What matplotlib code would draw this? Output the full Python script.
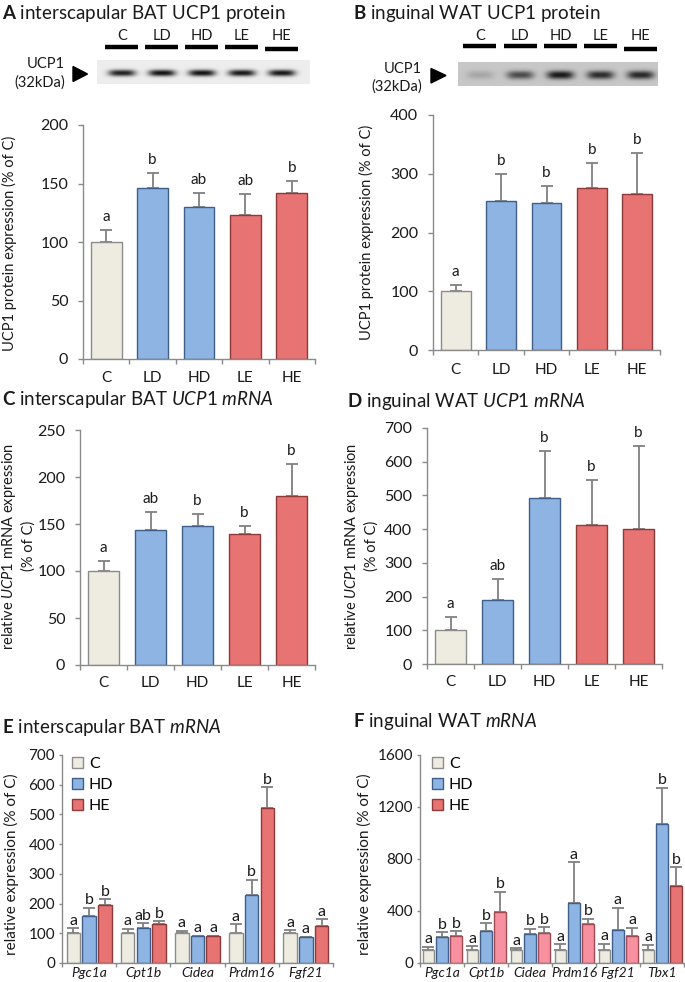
import numpy as np
import matplotlib
matplotlib.use("Agg")
import matplotlib.pyplot as plt
from matplotlib.patches import Polygon, Patch

plt.rcParams['font.family'] = ['Lato', 'DejaVu Sans']
plt.rcParams['mathtext.fontset'] = 'custom'
plt.rcParams['mathtext.rm'] = 'Lato'
plt.rcParams['mathtext.it'] = 'Lato:italic'
plt.rcParams['mathtext.bf'] = 'Lato:bold'

# ---------------- data ----------------
groups5 = ['C', 'LD', 'HD', 'LE', 'HE']

A_mean = [100, 146, 130, 123.5, 142]
A_top = [110, 159, 142, 141, 152]
A_letters = ['a', 'b', 'ab', 'ab', 'b']

B_mean = [100, 254, 251, 275, 266]
B_top = [111, 300, 279, 318, 335]
B_letters = ['a', 'b', 'b', 'b', 'b']

C_mean = [100, 144, 148, 139.5, 180]
C_top = [111, 163, 161, 148, 214]
C_letters = ['a', 'ab', 'b', 'b', 'b']

D_mean = [100, 189, 491, 411, 400]
D_top = [140, 251, 633, 545, 647]
D_letters = ['a', 'ab', 'b', 'b', 'b']

E_genes = ['Pgc1a', 'Cpt1b', 'Cidea', 'Prdm16', 'Fgf21']
E_series = ['C', 'HD', 'HE']
E_C = [100, 100, 100, 100, 100]
E_C_top = [117, 115, 108, 130, 110]
E_HD = [158, 118, 90, 228, 87]
E_HD_top = [186, 133, 91, 280, 89]
E_HE = [195, 130, 90, 522, 125]
E_HE_top = [215, 140, 91, 592, 147]
E_C_letters = ['a', 'a', 'a', 'a', 'a']
E_HD_letters = ['b', 'ab', 'a', 'b', 'a']
E_HE_letters = ['b', 'b', 'a', 'b', 'a']

F_genes = ['Pgc1a', 'Cpt1b', 'Cidea', 'Prdm16', 'Fgf21', 'Tbx1']
F_C = [100, 100, 100, 100, 100, 100]
F_C_top = [125, 130, 115, 145, 150, 140]
F_HD = [200, 245, 220, 460, 255, 1070]
F_HD_top = [235, 305, 265, 775, 425, 1350]
F_HE = [205, 390, 228, 298, 205, 590]
F_HE_top = [245, 550, 275, 340, 270, 735]
F_C_letters = ['a', 'a', 'a', 'a', 'a', 'a']
F_HD_letters = ['b', 'b', 'b', 'a', 'a', 'b']
F_HE_letters = ['b', 'b', 'b', 'b', 'a', 'b']

blotA_intensity = [0.86, 0.92, 0.92, 0.90, 0.90]
blotB_intensity = [0.16, 0.62, 0.88, 0.78, 0.80]

# ---------------- styles ----------------
BEIGE, BEIGE_E = '#EEECE1', '#8c8c8c'
BLUE, BLUE_E = '#8DB4E2', '#3f5f8a'
RED, RED_E = '#E87373', '#8b3a3a'
PINK, PINK_E = '#F7919F', '#a04a55'
AXC = '#8a8a8a'
TXT = '#1a1a1a'
ERRC = '#808080'
col5 = [BEIGE, BLUE, BLUE, RED, RED]
edge5 = [BEIGE_E, BLUE_E, BLUE_E, RED_E, RED_E]
F_he_colors = [PINK, PINK, PINK, PINK, PINK, RED]
F_he_edges = [PINK_E, PINK_E, PINK_E, PINK_E, PINK_E, RED_E]

W, H = 685, 982
fig = plt.figure(figsize=(W / 100, H / 100), dpi=100)

ov = fig.add_axes([0, 0, 1, 1], zorder=0)
ov.axis('off')


def px_axes(l, t, r, b):
    ax = fig.add_axes([l / W, 1 - b / H, (r - l) / W, (b - t) / H], zorder=2)
    ax.set_facecolor('none')
    return ax


def style_axes(ax, n, ylim, yticks, tick_fs, ytick_len, ytick_pad, xlabels,
               xlab_fs, xlab_pad, xstyle='normal', xtick_len=3.6):
    for s in ['top', 'right']:
        ax.spines[s].set_visible(False)
    for s in ['left', 'bottom']:
        ax.spines[s].set_color(AXC)
        ax.spines[s].set_linewidth(1.0)
    ax.set_xlim(-0.5, n - 0.5)
    ax.set_ylim(*ylim)
    ax.set_yticks(yticks)
    ax.tick_params(axis='y', which='major', direction='out', length=ytick_len,
                   width=1, color=AXC, labelsize=tick_fs, pad=ytick_pad,
                   labelcolor=TXT)
    ax.set_xticks(np.arange(n + 1) - 0.5)
    ax.set_xticklabels([])
    ax.tick_params(axis='x', which='major', direction='out', length=xtick_len,
                   width=1, color=AXC)
    ax.set_xticks(np.arange(n), minor=True)
    ax.set_xticklabels(xlabels, minor=True, fontsize=xlab_fs, style=xstyle,
                       color=TXT)
    ax.tick_params(axis='x', which='minor', length=0, pad=xlab_pad)


def simple_panel(rect, mean, top, letters, ylim, yticks, lab_off=6.5,
                 xlab_pad=9, ytick_pad=7):
    ax = px_axes(*rect)
    n = len(mean)
    x = np.arange(n)
    ax.bar(x, mean, 0.66, color=col5, edgecolor=edge5, linewidth=1.0, zorder=2)
    hi = np.array(top, float) - np.array(mean, float)
    ax.errorbar(x, mean, yerr=[np.zeros(n), hi], fmt='none', ecolor=ERRC,
                elinewidth=1.3, capsize=4.3, capthick=1.3, zorder=1)
    for xi, t, l in zip(x, top, letters):
        ax.annotate(l, (xi, t), xytext=(0, lab_off), textcoords='offset points',
                    ha='center', va='baseline', fontsize=11, color=TXT)
    style_axes(ax, n, ylim, yticks, 11.5, 3.6, ytick_pad, groups5, 11, xlab_pad)
    return ax


def grouped_panel(rect, genes, means, tops, letters, colors, edges, ylim, yticks,
                  width, offsets, legend_xy):
    ax = px_axes(*rect)
    n = len(genes)
    x = np.arange(n)
    for k in range(3):
        xs = x + offsets[k]
        ax.bar(xs, means[k], width, color=colors[k], edgecolor=edges[k],
               linewidth=1.0, zorder=2)
        hi = np.array(tops[k], float) - np.array(means[k], float)
        ax.errorbar(xs, means[k], yerr=[np.zeros(n), hi], fmt='none',
                    ecolor=ERRC, elinewidth=1.3, capsize=4.5, capthick=1.3,
                    zorder=1)
        for xi, t, l in zip(xs, tops[k], letters[k]):
            ax.annotate(l, (xi, t), xytext=(0, 2.5), textcoords='offset points',
                        ha='center', va='baseline', fontsize=11.5, color=TXT)
    style_axes(ax, n, ylim, yticks, 11, 2.5, 2.5, genes, 10, 3, xstyle='italic',
               xtick_len=3)
    handles = [Patch(facecolor=BEIGE, edgecolor=BEIGE_E, label='C'),
               Patch(facecolor=BLUE, edgecolor=BLUE_E, label='HD'),
               Patch(facecolor=RED, edgecolor=RED_E, label='HE')]
    ax.legend(handles=handles, loc='upper left',
              bbox_to_anchor=(legend_xy[0] / W, 1 - legend_xy[1] / H),
              bbox_transform=fig.transFigure, frameon=False, fontsize=11.5,
              handlelength=0.7, handleheight=0.7, handletextpad=0.35,
              labelspacing=0.42, borderpad=0, borderaxespad=0)
    return ax


# ---------------- bar panels ----------------
simple_panel((83, 125, 315, 359), A_mean, A_top, A_letters, (0, 200),
             [0, 50, 100, 150, 200])
simple_panel((433, 115, 660, 350), B_mean, B_top, B_letters, (0, 400),
             [0, 100, 200, 300, 400])
simple_panel((80, 430, 315, 665), C_mean, C_top, C_letters, (0, 250),
             [0, 50, 100, 150, 200, 250], xlab_pad=8)
simple_panel((427, 428, 662, 664), D_mean, D_top, D_letters, (0, 700),
             [0, 100, 200, 300, 400, 500, 600, 700], xlab_pad=8)

grouped_panel((62, 755, 333, 963), E_genes, [E_C, E_HD, E_HE],
              [E_C_top, E_HD_top, E_HE_top],
              [E_C_letters, E_HD_letters, E_HE_letters],
              [BEIGE, BLUE, RED], [BEIGE_E, BLUE_E, RED_E], (0, 700),
              [0, 100, 200, 300, 400, 500, 600, 700], 0.25, [-0.29, 0, 0.29],
              (72, 757))
grouped_panel((420, 755, 684, 963), F_genes, [F_C, F_HD, F_HE],
              [F_C_top, F_HD_top, F_HE_top],
              [F_C_letters, F_HD_letters, F_HE_letters],
              [BEIGE, BLUE, F_he_colors], [BEIGE_E, BLUE_E, F_he_edges],
              (0, 1600), [0, 400, 800, 1200, 1600], 0.26, [-0.31, 0, 0.32],
              (432, 757))

# ---------------- titles & y labels ----------------
TFS = 13.5
ov.text(2, 13, r"$\mathbf{A}$ interscapular BAT UCP1 protein", fontsize=TFS,
        va='center', ha='left', color=TXT)
ov.text(353, 13, r"$\mathbf{B}$ inguinal WAT UCP1 protein", fontsize=TFS,
        va='center', ha='left', color=TXT)
ov.text(2, 400, r"$\mathbf{C}$ interscapular BAT $\mathit{UCP1\ mRNA}$",
        fontsize=TFS, va='center', ha='left', color=TXT)
ov.text(347, 402, r"$\mathbf{D}$ inguinal WAT $\mathit{UCP1\ mRNA}$",
        fontsize=TFS, va='center', ha='left', color=TXT)
ov.text(2, 728, r"$\mathbf{E}$ interscapular BAT $\mathit{mRNA}$",
        fontsize=TFS, va='center', ha='left', color=TXT)
ov.text(353, 722, r"$\mathbf{F}$ inguinal WAT $\mathit{mRNA}$",
        fontsize=TFS, va='center', ha='left', color=TXT)

YFS = 10.5
ov.text(9, 243, "UCP1 protein expression (% of C)", rotation=90, fontsize=YFS,
        ha='center', va='center', color=TXT)
ov.text(366, 232, "UCP1 protein expression (% of C)", rotation=90, fontsize=YFS,
        ha='center', va='center', color=TXT)
ov.text(18, 546, "relative $\\mathit{UCP1}$ mRNA expression\n(% of C)",
        rotation=90, fontsize=YFS, ha='center', va='center', color=TXT,
        linespacing=1.35, multialignment='center')
ov.text(361, 546, "relative $\\mathit{UCP1}$ mRNA expression\n(% of C)",
        rotation=90, fontsize=YFS, ha='center', va='center', color=TXT,
        linespacing=1.35, multialignment='center')
ov.text(11, 864, "relative expression (% of C)", rotation=90, fontsize=11,
        ha='center', va='center', color=TXT)
ov.text(364, 864, "relative expression (% of C)", rotation=90, fontsize=11,
        ha='center', va='center', color=TXT)


# ---------------- western blots ----------------
def draw_blot(rect, lane_x0, lane_dx, intens, bg, band_y, hw, hh, line_y,
              label_y, tri, lab_x, lab_y1, lab_y2):
    x0, y0, x1, y1 = rect
    nx, ny = int((x1 - x0) * 3), int((y1 - y0) * 3)
    X, Y = np.meshgrid(np.linspace(x0, x1, nx), np.linspace(y0, y1, ny))
    img = np.full((ny, nx), bg)
    for i, v in enumerate(intens):
        cx = lane_x0 + i * lane_dx
        band = v * np.exp(-np.abs((X - cx) / hw) ** 3.5) * \
            np.exp(-np.abs((Y - band_y) / hh) ** 2.2)
        img = img - band * bg
    ov.imshow(np.clip(img, 0, 1), cmap='gray', vmin=0, vmax=1,
              extent=(x0, x1, y1, y0), aspect='auto', interpolation='bilinear',
              zorder=1)
    for i, lane in enumerate(groups5):
        cx = lane_x0 + i * lane_dx
        ly = line_y + (2.5 if i == len(groups5) - 1 else 0)
        ov.plot([cx - 16.5, cx + 16.5], [ly, ly], color='black', lw=3.2,
                solid_capstyle='butt', zorder=2)
        ov.text(cx, label_y, lane, ha='center', va='center', fontsize=10.5,
                color=TXT)
    ov.add_patch(Polygon(tri, closed=True, color='black', zorder=2))
    ov.text(lab_x, lab_y1, "UCP1", ha='right', va='center', fontsize=10.5,
            color=TXT)
    ov.text(lab_x, lab_y2, "(32kDa)", ha='right', va='center', fontsize=10.5,
            color=TXT)


draw_blot((97, 60, 310, 84), 122, 40, blotA_intensity, 0.93, 73, 13.5, 3.3,
          46.5, 36, [(73, 66.5), (73, 81.5), (87.5, 74)], 65, 64, 83)
draw_blot((458, 62, 658, 86), 480, 40.2, blotB_intensity, 0.78, 75, 13.5, 4.2,
          46, 36, [(431, 68.5), (431, 83), (446, 75.5)], 422, 69, 87)

ov.set_xlim(0, W)
ov.set_ylim(H, 0)

fig.savefig('out.png', dpi=100)
